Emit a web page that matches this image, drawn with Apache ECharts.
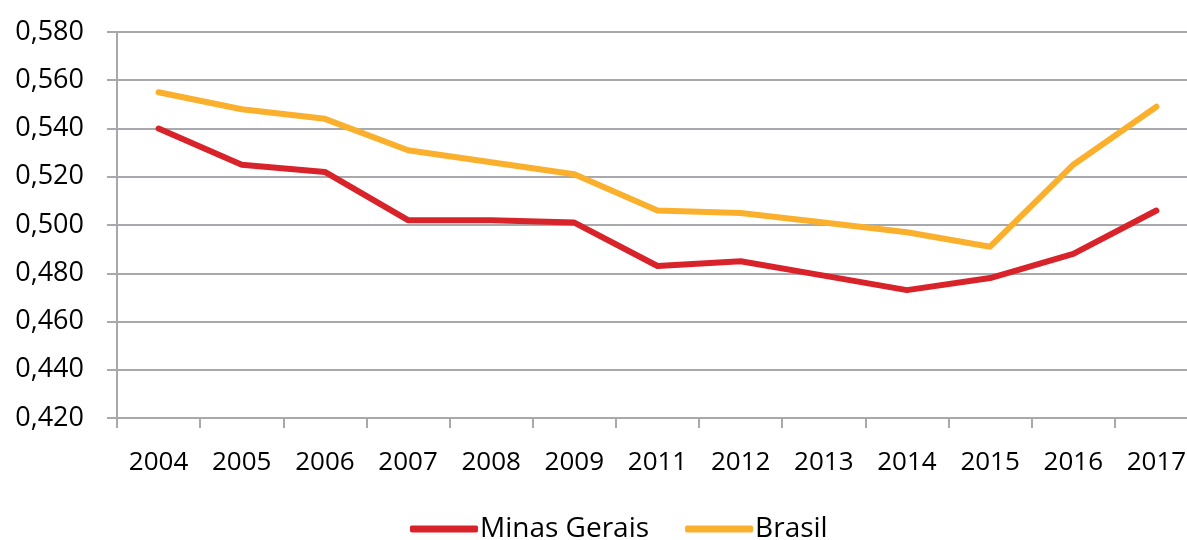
<!DOCTYPE html>
<html>
<head>
<meta charset="utf-8">
<script src="https://cdn.jsdelivr.net/npm/echarts@6/dist/echarts.min.js"></script>
<style>
  html, body { margin: 0; padding: 0; background: #fff; overflow: hidden; }
  #chart { width: 1198px; height: 540px; }
</style>
</head>
<body>
<div id="chart"></div>
<script>
  // anos (2010 ausente no original)
  var years = ['2004', '2005', '2006', '2007', '2008', '2009', '2011', '2012', '2013', '2014', '2015', '2016', '2017']
  var minasGerais = [0.540, 0.525, 0.522, 0.502, 0.502, 0.501, 0.483, 0.485, 0.479, 0.473, 0.478, 0.488, 0.506]
  var brasil = [0.555, 0.548, 0.544, 0.531, 0.526, 0.521, 0.506, 0.505, 0.501, 0.497, 0.491, 0.525, 0.549]

  var gray = '#a7a9ac'
  var font = 'Open Sans'

  var chart = echarts.init(document.getElementById('chart'))
  var option = {
    animation: false,
    grid: {
      left: 117,
      right: 0,
      top: 32,
      bottom: 122
    },
    legend: {
      data: ['Minas Gerais', 'Brasil'],
      left: 405,
      top: 510,
      icon: 'roundRect',
      itemWidth: 68,
      itemHeight: 7,
      itemGap: 36,
      textStyle: { fontFamily: font, fontSize: 28, color: '#000', padding: [0, 0, 0, -3] }
    },
    xAxis: {
      type: 'category',
      data: years,
      boundaryGap: true,
      axisLine: { lineStyle: { color: gray, width: 2 } },
      axisTick: { show: true, length: 10, interval: 0, lineStyle: { color: gray, width: 2 } },
      axisLabel: { margin: 32, interval: 0, fontFamily: font, fontSize: 26, color: '#000' }
    },
    yAxis: {
      type: 'value',
      min: 0.42,
      max: 0.58,
      interval: 0.02,
      axisLine: { show: true, lineStyle: { color: gray, width: 2 } },
      axisTick: { show: true, length: 10, lineStyle: { color: gray, width: 2 } },
      splitLine: { show: true, lineStyle: { color: gray, width: 2 } },
      axisLabel: {
        margin: 33,
        fontFamily: font,
        fontSize: 27,
        color: '#000',
        formatter: function (v) { return v.toFixed(3).replace('.', ',') }
      }
    },
    series: [
      {
        name: 'Minas Gerais',
        type: 'line',
        data: minasGerais,
        showSymbol: false,
        symbol: 'none',
        itemStyle: { color: '#d9232a' },
        lineStyle: { color: '#d9232a', width: 6, cap: 'round', join: 'round' }
      },
      {
        name: 'Brasil',
        type: 'line',
        data: brasil,
        showSymbol: false,
        symbol: 'none',
        itemStyle: { color: '#fbb02d' },
        lineStyle: { color: '#fbb02d', width: 6, cap: 'round', join: 'round' }
      }
    ]
  }
  chart.setOption(option)
</script>
</body>
</html>
